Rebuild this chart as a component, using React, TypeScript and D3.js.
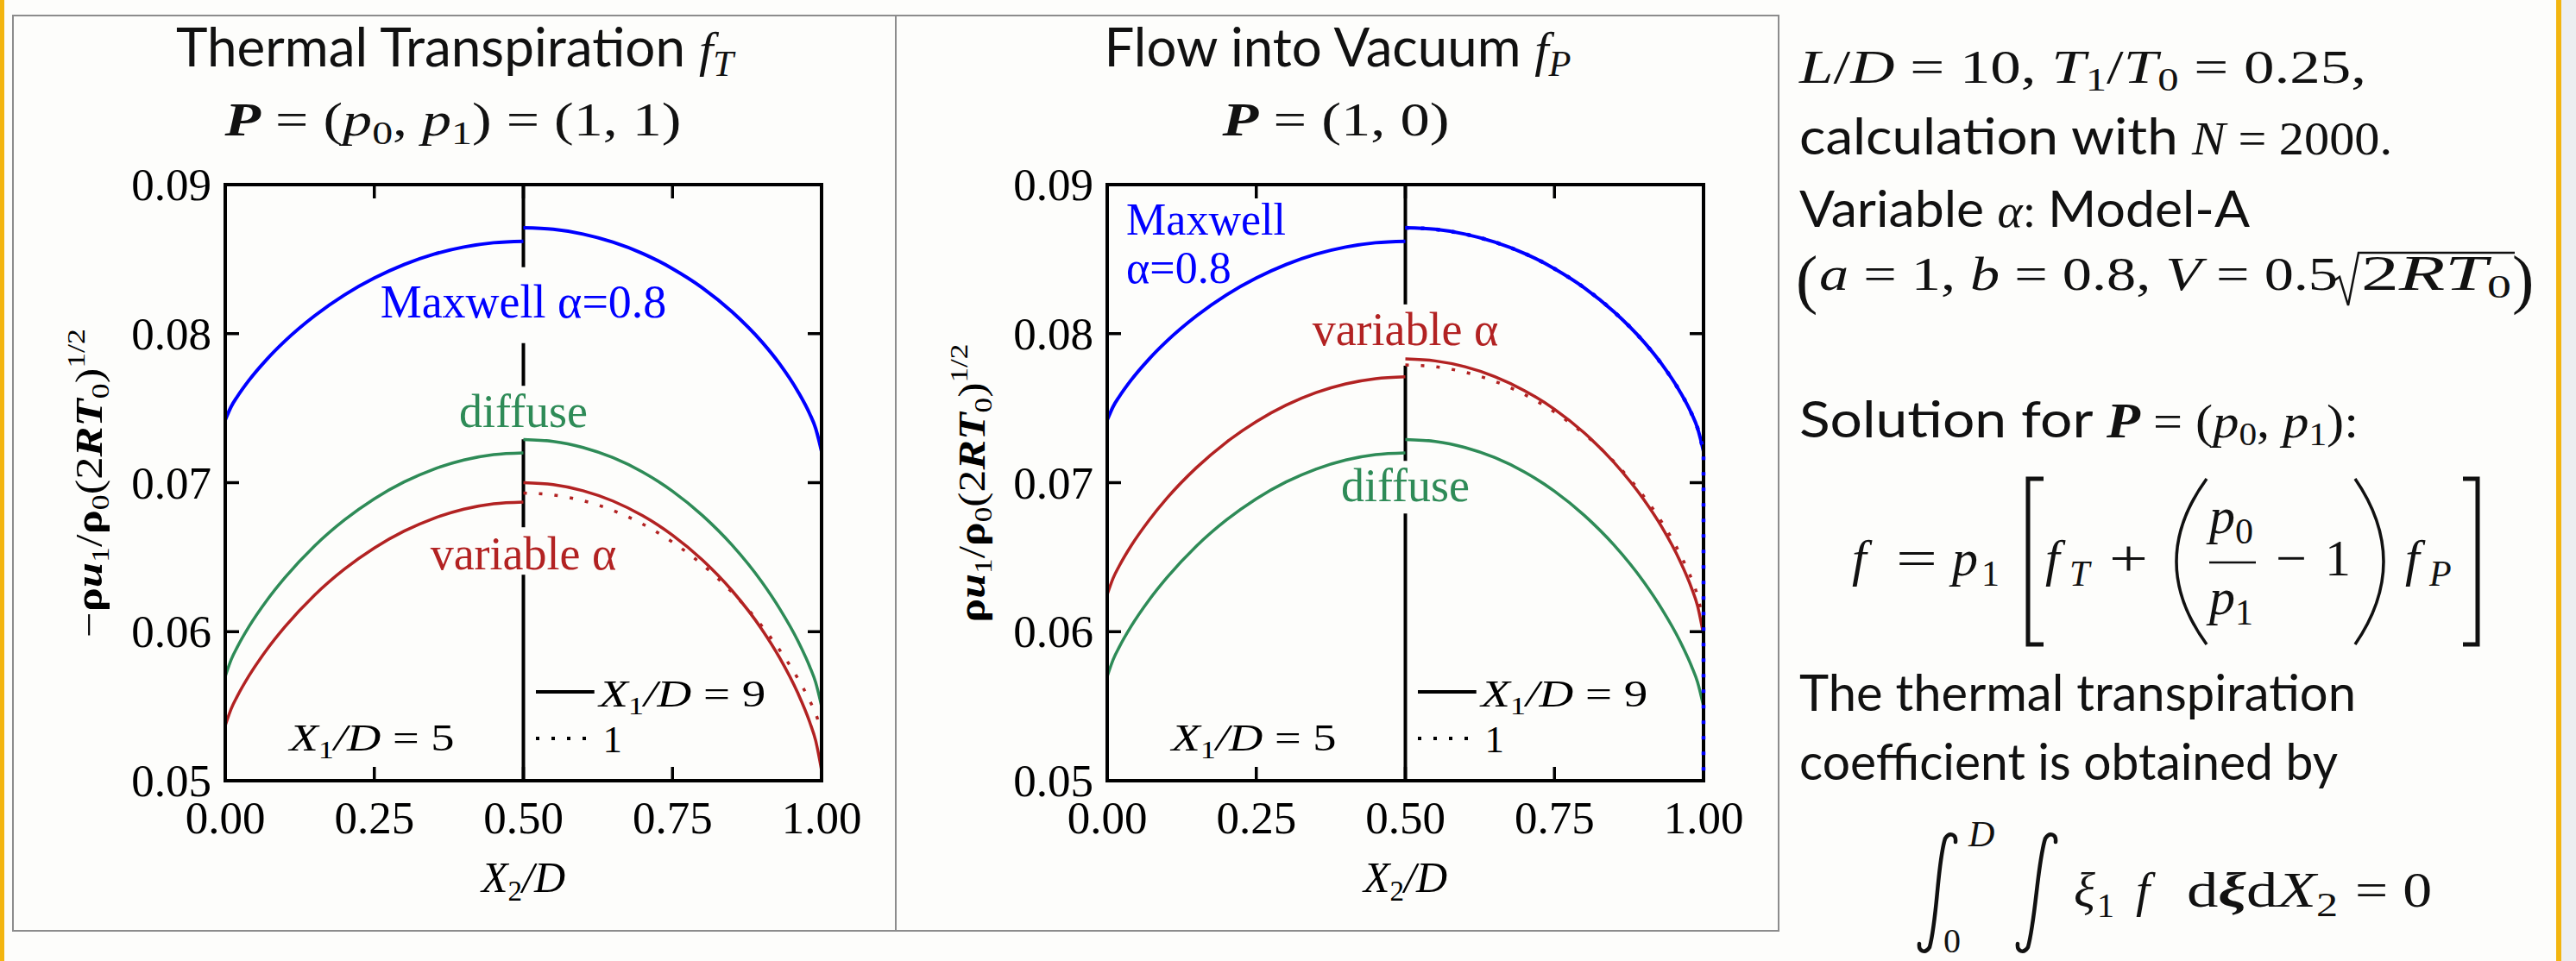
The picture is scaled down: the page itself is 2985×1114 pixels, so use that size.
import React from 'react';
import * as d3 from 'd3';

const W = 2985;
const H = 1114;
const SERIF = '"Liberation Serif", "Times New Roman", serif';
const SANS = 'Lato, "Open Sans", sans-serif';
const BG = '#fdfdfb';
const BLUE = '#0000ff';
const GREEN = '#2e8b57';
const RED = '#b22222';

// X2/D positions where profiles were read (left half: X1/D = 5, right half: X1/D = 9 and 1)
const xLeft = [0, 0.01, 0.02, 0.04, 0.07, 0.1, 0.15, 0.2, 0.25, 0.3, 0.35, 0.4, 0.45, 0.5];
const xRight = [0.5, 0.55, 0.6, 0.65, 0.7, 0.75, 0.8, 0.85, 0.9, 0.93, 0.96, 0.98, 0.99, 1.0];
const xRightWall = [...xRight, 1.0];

// Maxwell alpha = 0.8 (same in both panels)
const maxwellX5 = [0.0742, 0.07511, 0.07576, 0.07688, 0.07829, 0.0795, 0.0812, 0.0826, 0.08373, 0.08464, 0.08533, 0.08581, 0.0861, 0.0862];
const maxwellX9 = [0.0871, 0.087, 0.08668, 0.08614, 0.08538, 0.08436, 0.08308, 0.08146, 0.07944, 0.07795, 0.07614, 0.07463, 0.07366, 0.0721];
// flow into vacuum, X1/D = 1: lies on the X1/D = 9 curve, then runs down the wall
const maxwellVacX1 = [0.0871, 0.087, 0.08668, 0.08614, 0.08538, 0.08436, 0.08308, 0.08146, 0.07944, 0.07795, 0.07614, 0.07463, 0.07366, 0.0721, 0.045];

// diffuse (same in both panels)
const diffuseX5 = [0.057, 0.05813, 0.05895, 0.06035, 0.06211, 0.06362, 0.06576, 0.0675, 0.06892, 0.07005, 0.07091, 0.07152, 0.07188, 0.072];
const diffuseX9 = [0.0729, 0.07277, 0.07236, 0.07168, 0.07071, 0.06943, 0.06781, 0.06581, 0.06333, 0.06153, 0.05941, 0.05767, 0.05661, 0.055];

// variable alpha, thermal transpiration
const varThermX5 = [0.0537, 0.05483, 0.05565, 0.05705, 0.05881, 0.06032, 0.06246, 0.0642, 0.06562, 0.06675, 0.06761, 0.06822, 0.06858, 0.0687];
const varThermX9 = [0.07, 0.06987, 0.06946, 0.06877, 0.06778, 0.06648, 0.06482, 0.06275, 0.06015, 0.05823, 0.0559, 0.05395, 0.05271, 0.0507];
const varThermX1 = [0.0693, 0.06917, 0.06879, 0.06814, 0.06722, 0.06601, 0.0645, 0.06264, 0.06037, 0.05875, 0.05688, 0.05538, 0.05451, 0.0533];

// variable alpha, flow into vacuum
const varVacX5 = [0.0625, 0.0636, 0.0644, 0.06576, 0.06747, 0.06895, 0.07102, 0.07272, 0.0741, 0.0752, 0.07604, 0.07663, 0.07698, 0.0771];
const varVacX9 = [0.0783, 0.07817, 0.07778, 0.07712, 0.07617, 0.07493, 0.07334, 0.07135, 0.06885, 0.06702, 0.06479, 0.06292, 0.06173, 0.0598];
const varVacX1 = [0.0779, 0.07778, 0.07741, 0.0768, 0.07591, 0.07474, 0.07326, 0.0714, 0.06907, 0.06735, 0.06526, 0.06352, 0.0624, 0.0606];

const xTicks = [0, 0.25, 0.5, 0.75, 1];
const xTickLabels = ['0.00', '0.25', '0.50', '0.75', '1.00'];
const yTicks = [0.05, 0.06, 0.07, 0.08, 0.09];
const yTickLabels = ['0.05', '0.06', '0.07', '0.08', '0.09'];

type Curve = { xs: number[]; ys: number[]; color: string; width: number; dotted?: boolean; onTop?: boolean };
type Label = { lines: string[]; color: string; x: number; y: number[]; anchor: 'start' | 'middle'; size?: number; bg?: [number, number] };

const thermalCurves: Curve[] = [
  { xs: xRight, ys: varThermX1, color: RED, width: 3.5, dotted: true },
  { xs: xLeft, ys: maxwellX5, color: BLUE, width: 4 },
  { xs: xRight, ys: maxwellX9, color: BLUE, width: 4 },
  { xs: xLeft, ys: diffuseX5, color: GREEN, width: 3.5 },
  { xs: xRight, ys: diffuseX9, color: GREEN, width: 3.5 },
  { xs: xLeft, ys: varThermX5, color: RED, width: 3.5 },
  { xs: xRight, ys: varThermX9, color: RED, width: 3.5 },
];

const vacuumCurves: Curve[] = [
  { xs: xRight, ys: varVacX1, color: RED, width: 3.5, dotted: true },
  { xs: xLeft, ys: maxwellX5, color: BLUE, width: 4 },
  { xs: xRight, ys: maxwellX9, color: BLUE, width: 4 },
  { xs: xLeft, ys: diffuseX5, color: GREEN, width: 3.5 },
  { xs: xRight, ys: diffuseX9, color: GREEN, width: 3.5 },
  { xs: xLeft, ys: varVacX5, color: RED, width: 3.5 },
  { xs: xRight, ys: varVacX9, color: RED, width: 3.5 },
  { xs: xRightWall, ys: maxwellVacX1, color: BLUE, width: 4.5, dotted: true, onTop: true },
];

const thermalLabels: Label[] = [
  { lines: ['Maxwell α=0.8'], color: BLUE, x: 0.5, y: [0.0811], anchor: 'middle', bg: [58, 30] },
  { lines: ['diffuse'], color: GREEN, x: 0.5, y: [0.07372], anchor: 'middle', bg: [48, 14] },
  { lines: ['variable α'], color: RED, x: 0.5, y: [0.06417], anchor: 'middle', bg: [49, 6] },
];

const vacuumLabels: Label[] = [
  { lines: ['Maxwell', 'α=0.8'], color: BLUE, x: 0.032, y: [0.08664, 0.08338], anchor: 'start', size: 52 },
  { lines: ['variable α'], color: RED, x: 0.5, y: [0.07924], anchor: 'middle', bg: [47, 24] },
  { lines: ['diffuse'], color: GREEN, x: 0.5, y: [0.06874], anchor: 'middle', bg: [47, 14] },
];

const PLOT = 691;
const TOP = 214;
const BOTTOM = 905;

type PanelProps = { id: string; left: number; curves: Curve[]; labels: Label[]; minus: boolean; labelX: number };

function Panel({ id, left, curves, labels, minus, labelX }: PanelProps) {
  const x = d3.scaleLinear().domain([0, 1]).range([left, left + PLOT]);
  const y = d3.scaleLinear().domain([0.05, 0.09]).range([BOTTOM, TOP]);
  const line = d3
    .line<[number, number]>()
    .x(d => x(d[0]))
    .y(d => y(d[1]))
    .curve(d3.curveMonotoneX);
  const mid = x(0.5);

  const drawCurve = (c: Curve, i: number) => {
    const pts = c.xs.map((v, j) => [v, c.ys[j]] as [number, number]);
    const n = pts.length;
    // a repeated last x means the profile runs straight down the wall
    const drop = n > 1 && pts[n - 1][0] === pts[n - 2][0];
    const body = drop ? pts.slice(0, -1) : pts;
    let d = line(body) || '';
    if (drop) d += `L${x(pts[n - 1][0])},${y(pts[n - 1][1])}`;
    return (
      <path
        key={i}
        d={d}
        fill="none"
        stroke={c.color}
        strokeWidth={c.width}
        strokeDasharray={c.dotted ? '4 14' : undefined}
        strokeLinejoin="round"
      />
    );
  };

  return (
    <g>
      <defs>
        <clipPath id={`clip-${id}`}>
          <rect x={x(0) - 4} y={y(0.09)} width={x(1) - x(0) + 8} height={y(0.05) - y(0.09)} />
        </clipPath>
      </defs>

      {/* center line X2/D = 0.5 */}
      <line x1={mid} x2={mid} y1={y(0.09)} y2={y(0.05)} stroke="#000" strokeWidth={4} />

      {/* label backgrounds */}
      {labels
        .filter(l => l.bg)
        .map((l, i) => {
          const w = l.lines[0].length * 26;
          const cx = x(l.x);
          const x0 = l.anchor === 'middle' ? cx - w / 2 : cx;
          return <rect key={i} x={x0} y={y(l.y[0]) - l.bg![0]} width={w} height={l.bg![0] + l.bg![1]} fill={BG} />;
        })}

      <g clipPath={`url(#clip-${id})`}>{curves.filter(c => !c.onTop).map(drawCurve)}</g>

      {labels.map((l, i) => (
        <text key={i} textAnchor={l.anchor} fill={l.color} fontFamily={SERIF} fontSize={l.size || 54}>
          {l.lines.map((s, j) => (
            <tspan key={j} x={x(l.x)} y={y(l.y[j])}>
              {s}
            </tspan>
          ))}
        </text>
      ))}

      {/* legend */}
      <text x={x(0.246)} y={y(0.052)} textAnchor="middle" fontFamily={SERIF} fontSize={45} textLength={191} lengthAdjust="spacingAndGlyphs">
        <tspan fontStyle="italic">X</tspan>
        <tspan fontSize={30} dy={9}>1</tspan>
        <tspan dy={-9} fontStyle="italic">/D</tspan>
        <tspan>{' = 5'}</tspan>
      </text>
      <line x1={x(0.521)} x2={x(0.619)} y1={y(0.05596)} y2={y(0.05596)} stroke="#000" strokeWidth={4} />
      <text x={x(0.627)} y={y(0.05499)} fontFamily={SERIF} fontSize={45} textLength={193} lengthAdjust="spacingAndGlyphs">
        <tspan fontStyle="italic">X</tspan>
        <tspan fontSize={30} dy={9}>1</tspan>
        <tspan dy={-9} fontStyle="italic">/D</tspan>
        <tspan>{' = 9'}</tspan>
      </text>
      <line x1={x(0.521)} x2={x(0.609)} y1={y(0.05284)} y2={y(0.05284)} stroke="#000" strokeWidth={4} strokeDasharray="4 14" />
      <text x={x(0.633)} y={y(0.0519)} fontFamily={SERIF} fontSize={45}>
        1
      </text>

      {/* frame and ticks */}
      <rect x={x(0)} y={y(0.09)} width={x(1) - x(0)} height={y(0.05) - y(0.09)} fill="none" stroke="#000" strokeWidth={4} />
      {yTicks.slice(1, -1).map((t, i) => (
        <g key={i}>
          <line x1={x(0)} x2={x(0) + 16} y1={y(t)} y2={y(t)} stroke="#000" strokeWidth={3.5} />
          <line x1={x(1) - 16} x2={x(1)} y1={y(t)} y2={y(t)} stroke="#000" strokeWidth={3.5} />
        </g>
      ))}
      {xTicks.slice(1, -1).map((t, i) => (
        <g key={i}>
          <line x1={x(t)} x2={x(t)} y1={y(0.05)} y2={y(0.05) - 16} stroke="#000" strokeWidth={3.5} />
          <line x1={x(t)} x2={x(t)} y1={y(0.09)} y2={y(0.09) + 16} stroke="#000" strokeWidth={3.5} />
        </g>
      ))}

      <g clipPath={`url(#clip-${id})`}>{curves.filter(c => c.onTop).map(drawCurve)}</g>

      {yTicks.map((t, i) => (
        <text key={i} x={x(0) - 16} y={y(t)} dy="0.34em" textAnchor="end" fontFamily={SERIF} fontSize={53} fill="#000">
          {yTickLabels[i]}
        </text>
      ))}
      {xTicks.map((t, i) => (
        <text key={i} x={x(t)} y={BOTTOM + 61} textAnchor="middle" fontFamily={SERIF} fontSize={53} fill="#000">
          {xTickLabels[i]}
        </text>
      ))}
      <text x={x(0.5)} y={BOTTOM + 129} textAnchor="middle" fontFamily={SERIF} fontSize={50}>
        <tspan fontStyle="italic">X</tspan>
        <tspan fontSize={33} dy={10}>2</tspan>
        <tspan dy={-10} fontStyle="italic">/D</tspan>
      </text>

      {/* y label */}
      <text
        transform={`translate(${labelX},560) rotate(-90)`}
        textAnchor="middle"
        fontFamily={SERIF}
        fontSize={44}
        textLength={minus ? 358 : 323}
        lengthAdjust="spacingAndGlyphs"
      >
        {minus ? '−' : ''}
        <tspan fontWeight="bold">ρ</tspan>
        <tspan fontWeight="bold" fontStyle="italic">u</tspan>
        <tspan fontSize={30} dy={8}>1</tspan>
        <tspan dy={-8}>/</tspan>
        <tspan fontWeight="bold">ρ</tspan>
        <tspan fontSize={30} dy={8}>0</tspan>
        <tspan dy={-8}>(2</tspan>
        <tspan fontWeight="bold" fontStyle="italic">RT</tspan>
        <tspan fontSize={30} dy={8}>0</tspan>
        <tspan dy={-8}>)</tspan>
        <tspan fontSize={30} dy={-20}>1/2</tspan>
      </text>
    </g>
  );
}

function integral(x0: number, x1: number, y0: number, y1: number) {
  return (
    `M${x1 - 3},${y0 + 11} C${x1 - 2},${y0 + 2} ${x1 - 10},${y0 - 1} ${x1 - 15},${y0 + 7} ` +
    `C${x1 - 24},${y0 + 35} ${x0 + 24},${y1 - 40} ${x0 + 15},${y1 - 7} ` +
    `C${x0 + 10},${y1 + 1} ${x0 + 2},${y1 - 2} ${x0 + 3},${y1 - 11}`
  );
}

export default function App() {
  const ink = '#111';
  const M = 54; // math size in the notes
  const S = 37; // subscript size in the notes
  return (
    <div style={{ position: 'absolute', left: 0, top: 0 }}>
      <svg width={W} height={H} style={{ display: 'block' }}>
        <rect width={W} height={H} fill={BG} />
        <rect x={0} y={0} width={5} height={H} fill="#f3b50f" />
        <rect x={2962} y={0} width={6} height={H} fill="#f3b50f" />
        <rect x={2968} y={0} width={17} height={H} fill="#eceef1" />

        {/* panel boxes */}
        <rect x={15} y={18} width={2046} height={1061} fill="none" stroke="#8c8c8c" strokeWidth={2} />
        <line x1={1038} x2={1038} y1={18} y2={1079} stroke="#8c8c8c" strokeWidth={2} />

        {/* titles */}
        <text x={527} y={77} textAnchor="middle" fontFamily={SANS} fontSize={61} fill={ink} textLength={646} lengthAdjust="spacingAndGlyphs">
          {'Thermal Transpiration '}
          <tspan fontFamily={SERIF} fontStyle="italic" fontSize={58}>f</tspan>
          <tspan fontFamily={SERIF} fontStyle="italic" fontSize={42} dy={11}>T</tspan>
        </text>
        <text x={525} y={157} textAnchor="middle" fontFamily={SERIF} fontSize={54} fill={ink} textLength={529} lengthAdjust="spacingAndGlyphs">
          <tspan fontWeight="bold" fontStyle="italic">P</tspan>
          <tspan>{' = ('}</tspan>
          <tspan fontStyle="italic">p</tspan>
          <tspan fontSize={38} dy={10}>0</tspan>
          <tspan dy={-10}>{', '}</tspan>
          <tspan fontStyle="italic">p</tspan>
          <tspan fontSize={38} dy={10}>1</tspan>
          <tspan dy={-10}>{') = (1, 1)'}</tspan>
        </text>
        <text x={1550} y={77} textAnchor="middle" fontFamily={SANS} fontSize={61} fill={ink} textLength={541} lengthAdjust="spacingAndGlyphs">
          {'Flow into Vacuum '}
          <tspan fontFamily={SERIF} fontStyle="italic" fontSize={58}>f</tspan>
          <tspan fontFamily={SERIF} fontStyle="italic" fontSize={42} dy={11}>P</tspan>
        </text>
        <text x={1548} y={157} textAnchor="middle" fontFamily={SERIF} fontSize={54} fill={ink} textLength={263} lengthAdjust="spacingAndGlyphs">
          <tspan fontWeight="bold" fontStyle="italic">P</tspan>
          <tspan>{' = (1, 0)'}</tspan>
        </text>

        <Panel id="ft" left={261} curves={thermalCurves} labels={thermalLabels} minus={true} labelX={118} />
        <Panel id="fp" left={1283} curves={vacuumCurves} labels={vacuumLabels} minus={false} labelX={1141} />

        {/* right-hand notes */}
        <g fill={ink}>
          <text x={2085} y={96} fontFamily={SERIF} fontSize={M} textLength={657} lengthAdjust="spacingAndGlyphs">
            <tspan fontStyle="italic">L</tspan>
            <tspan>/</tspan>
            <tspan fontStyle="italic">D</tspan>
            <tspan>{' = 10, '}</tspan>
            <tspan fontStyle="italic">T</tspan>
            <tspan fontSize={S} dy={9}>1</tspan>
            <tspan dy={-9}>/</tspan>
            <tspan fontStyle="italic">T</tspan>
            <tspan fontSize={S} dy={9}>0</tspan>
            <tspan dy={-9}>{' = 0.25,'}</tspan>
          </text>
          <text x={2085} y={179} fontFamily={SANS} fontSize={59} textLength={687} lengthAdjust="spacingAndGlyphs">
            {'calculation with '}
            <tspan fontFamily={SERIF} fontStyle="italic" fontSize={M}>N</tspan>
            <tspan fontFamily={SERIF} fontSize={M}>{' = 2000.'}</tspan>
          </text>
          <text x={2085} y={263} fontFamily={SANS} fontSize={59} textLength={522} lengthAdjust="spacingAndGlyphs">
            {'Variable '}
            <tspan fontFamily={SERIF} fontStyle="italic" fontSize={M}>α</tspan>
            <tspan fontFamily={SERIF} fontSize={M}>{': '}</tspan>
            {'Model-A'}
          </text>
          <text x={2081} y={349} fontFamily={SERIF} fontSize={76}>(</text>
          <text x={2108} y={336} fontFamily={SERIF} fontSize={M} textLength={601} lengthAdjust="spacingAndGlyphs">
            <tspan fontStyle="italic">a</tspan>
            <tspan>{' = 1, '}</tspan>
            <tspan fontStyle="italic">b</tspan>
            <tspan>{' = 0.8, '}</tspan>
            <tspan fontStyle="italic">V</tspan>
            <tspan>{' = 0.5'}</tspan>
          </text>
          <path d="M2702,327 L2711,321 L2721,354 L2733,293 L2914,293" fill="none" stroke={ink} strokeWidth={2.5} />
          <text x={2736} y={336} fontFamily={SERIF} fontSize={58} textLength={174} lengthAdjust="spacingAndGlyphs">
            <tspan>2</tspan>
            <tspan fontStyle="italic">RT</tspan>
            <tspan fontSize={S} dy={9}>0</tspan>
          </text>
          <text x={2911} y={349} fontFamily={SERIF} fontSize={76}>)</text>

          <text x={2085} y={507} fontFamily={SANS} fontSize={59} textLength={648} lengthAdjust="spacingAndGlyphs">
            {'Solution for '}
            <tspan fontFamily={SERIF} fontWeight="bold" fontStyle="italic" fontSize={57}>P</tspan>
            <tspan fontFamily={SERIF} fontSize={M}>{' = ('}</tspan>
            <tspan fontFamily={SERIF} fontStyle="italic" fontSize={M}>p</tspan>
            <tspan fontFamily={SERIF} fontSize={S} dy={9}>0</tspan>
            <tspan fontFamily={SERIF} fontSize={M} dy={-9}>{', '}</tspan>
            <tspan fontFamily={SERIF} fontStyle="italic" fontSize={M}>p</tspan>
            <tspan fontFamily={SERIF} fontSize={S} dy={9}>1</tspan>
            <tspan fontFamily={SERIF} fontSize={M} dy={-9}>{'):'}</tspan>
          </text>

          {/* f = p1 [ fT + (p0/p1 - 1) fP ] */}
          <g fontFamily={SERIF} fontSize={60}>
            <text x={2146} y={667} fontStyle="italic">f</text>
            <text x={2197} y={667} textLength={48} lengthAdjust="spacingAndGlyphs">=</text>
            <text x={2262} y={667} fontStyle="italic">p</text>
            <text x={2296} y={679} fontSize={42}>1</text>
            <path d="M2368,555 H2350 V747 H2368" fill="none" stroke={ink} strokeWidth={5} />
            <text x={2370} y={667} fontStyle="italic">f</text>
            <text x={2398} y={679} fontSize={42} fontStyle="italic">T</text>
            <text x={2444} y={667} textLength={45} lengthAdjust="spacingAndGlyphs">+</text>
            <path d="M2557,555 Q2487,651 2557,747" fill="none" stroke={ink} strokeWidth={3.5} />
            <text x={2560} y={618} fontStyle="italic">p</text>
            <text x={2590} y={630} fontSize={42}>0</text>
            <line x1={2560} x2={2614} y1={652} y2={652} stroke={ink} strokeWidth={2.5} />
            <text x={2560} y={712} fontStyle="italic">p</text>
            <text x={2590} y={724} fontSize={42}>1</text>
            <text x={2637} y={667} textLength={36} lengthAdjust="spacingAndGlyphs">−</text>
            <text x={2694} y={667}>1</text>
            <path d="M2729,555 Q2795,651 2729,747" fill="none" stroke={ink} strokeWidth={3.5} />
            <text x={2787} y={667} fontStyle="italic">f</text>
            <text x={2815} y={679} fontSize={42} fontStyle="italic">P</text>
            <path d="M2854,555 H2871 V747 H2854" fill="none" stroke={ink} strokeWidth={5} />
          </g>

          <text x={2085} y={824} fontFamily={SANS} fontSize={59} textLength={645} lengthAdjust="spacingAndGlyphs">
            The thermal transpiration
          </text>
          <text x={2085} y={904} fontFamily={SANS} fontSize={59} textLength={624} lengthAdjust="spacingAndGlyphs">
            coefficient is obtained by
          </text>

          {/* integral condition */}
          <path d={integral(2221, 2269, 965, 1105)} fill="none" stroke={ink} strokeWidth={4.5} strokeLinecap="round" />
          <text x={2281} y={981} fontFamily={SERIF} fontStyle="italic" fontSize={42}>D</text>
          <text x={2252} y={1104} fontFamily={SERIF} fontSize={40}>0</text>
          <path d={integral(2335, 2385, 965, 1105)} fill="none" stroke={ink} strokeWidth={4.5} strokeLinecap="round" />
          <g fontFamily={SERIF} fontSize={58}>
            <text x={2403} y={1051} fontStyle="italic">ξ</text>
            <text x={2430} y={1063} fontSize={40}>1</text>
            <text x={2475} y={1051} fontStyle="italic">f</text>
            <text x={2534} y={1051} textLength={175} lengthAdjust="spacingAndGlyphs">
              <tspan>d</tspan>
              <tspan fontWeight="bold" fontStyle="italic">ξ</tspan>
              <tspan>d</tspan>
              <tspan fontStyle="italic">X</tspan>
              <tspan fontSize={40} dy={11}>2</tspan>
            </text>
            <text x={2729} y={1051} textLength={89} lengthAdjust="spacingAndGlyphs">= 0</text>
          </g>
        </g>
      </svg>
    </div>
  );
}
